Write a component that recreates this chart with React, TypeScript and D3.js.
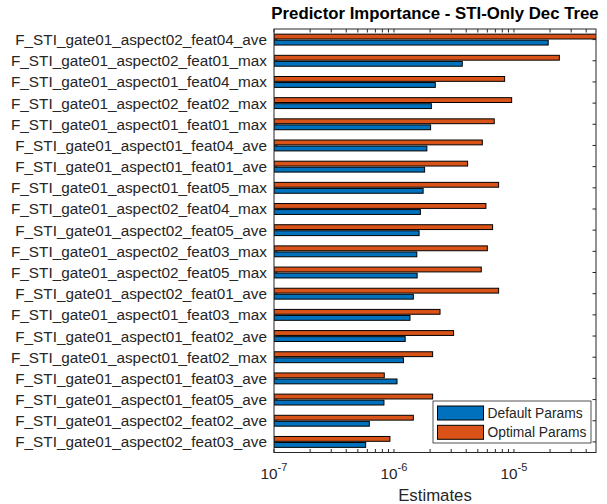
import React, { useRef, useEffect } from 'react';
import * as d3 from 'd3';

// Categories listed top to bottom
const categories = [
  'F_STI_gate01_aspect02_feat04_ave',
  'F_STI_gate01_aspect02_feat01_max',
  'F_STI_gate01_aspect01_feat04_max',
  'F_STI_gate01_aspect02_feat02_max',
  'F_STI_gate01_aspect01_feat01_max',
  'F_STI_gate01_aspect01_feat04_ave',
  'F_STI_gate01_aspect01_feat01_ave',
  'F_STI_gate01_aspect01_feat05_max',
  'F_STI_gate01_aspect02_feat04_max',
  'F_STI_gate01_aspect02_feat05_ave',
  'F_STI_gate01_aspect02_feat03_max',
  'F_STI_gate01_aspect02_feat05_max',
  'F_STI_gate01_aspect02_feat01_ave',
  'F_STI_gate01_aspect01_feat03_max',
  'F_STI_gate01_aspect01_feat02_ave',
  'F_STI_gate01_aspect01_feat02_max',
  'F_STI_gate01_aspect01_feat03_ave',
  'F_STI_gate01_aspect01_feat05_ave',
  'F_STI_gate01_aspect02_feat02_ave',
  'F_STI_gate01_aspect02_feat03_ave',
];

const defaultParams = [
  1.93e-5, 3.71e-6, 2.21e-6, 2.05e-6, 2.02e-6, 1.88e-6, 1.80e-6, 1.75e-6, 1.66e-6, 1.62e-6,
  1.55e-6, 1.56e-6, 1.45e-6, 1.36e-6, 1.24e-6, 1.20e-6, 1.06e-6, 8.25e-7, 6.23e-7, 5.81e-7,
];

const optimalParams = [
  5.5e-5, 2.39e-5, 8.36e-6, 9.57e-6, 6.85e-6, 5.45e-6, 4.11e-6, 7.45e-6, 5.84e-6, 6.64e-6,
  6.0e-6, 5.34e-6, 7.45e-6, 2.42e-6, 3.14e-6, 2.10e-6, 8.30e-7, 2.10e-6, 1.45e-6, 9.25e-7,
];

const seriesNames = ['Default Params', 'Optimal Params'];
const seriesColors = ['#0072BD', '#D95319'];
const xDomain: [number, number] = [1e-7, 4.83e-5];
const xTickExponents = [-7, -6, -5];

const width = 607;
const height = 504;
const axisColor = '#262626';
const font = '"Liberation Sans", Arial, Helvetica, sans-serif';

const App: React.FC = () => {
  const svgRef = useRef<SVGSVGElement>(null);

  useEffect(() => {
    if (!svgRef.current) return;
    d3.select(svgRef.current).selectAll('*').remove();

    const margin = { top: 29, right: 11, bottom: 51.5, left: 274 };
    const innerWidth = width - margin.left - margin.right;
    const innerHeight = height - margin.top - margin.bottom;

    const x = d3.scaleLog().domain(xDomain).range([0, innerWidth]);
    const y = d3.scaleBand().domain(categories).range([0, innerHeight]).padding(0);
    const bw = y.bandwidth();

    // MATLAB-style grouped barh geometry (2 series)
    const groupWidth = 2 / 3.5;
    const barH = (groupWidth / 2) * 0.8 * bw;
    const offsets = [groupWidth / 4, -groupWidth / 4]; // default below, optimal above

    const svg = d3.select(svgRef.current);
    const g = svg.append('g').attr('transform', `translate(${margin.left},${margin.top})`);

    svg.append('defs').append('clipPath').attr('id', 'plot-clip')
      .append('rect').attr('width', innerWidth).attr('height', innerHeight);

    const bars = g.append('g').attr('clip-path', 'url(#plot-clip)');
    [defaultParams, optimalParams].forEach((vals, s) => {
      bars.selectAll(`.bar-${s}`)
        .data(vals)
        .enter().append('rect')
        .attr('class', `bar-${s}`)
        .attr('x', 0)
        .attr('y', (_d, i) => (y(categories[i]) as number) + bw / 2 + offsets[s] * bw - barH / 2)
        .attr('width', d => x(d))
        .attr('height', barH)
        .attr('fill', seriesColors[s])
        .attr('stroke', '#000')
        .attr('stroke-width', 1);
    });

    // box
    g.append('rect')
      .attr('width', innerWidth)
      .attr('height', innerHeight)
      .attr('fill', 'none')
      .attr('stroke', axisColor)
      .attr('stroke-width', 1);

    // x ticks (major + minor), drawn inward on bottom and top
    const tickVals: number[] = [];
    for (let e = -7; e <= -5; e++) {
      for (let k = 1; k <= 9; k++) {
        const v = k * Math.pow(10, e);
        if (v >= xDomain[0] && v <= xDomain[1]) tickVals.push(v);
      }
    }
    const tl = 3.5;
    const xt = g.append('g');
    tickVals.forEach(v => {
      xt.append('line').attr('x1', x(v)).attr('x2', x(v))
        .attr('y1', innerHeight).attr('y2', innerHeight - tl)
        .attr('stroke', axisColor);
      xt.append('line').attr('x1', x(v)).attr('x2', x(v))
        .attr('y1', 0).attr('y2', tl)
        .attr('stroke', axisColor);
    });

    // y ticks on both sides
    categories.forEach(c => {
      const yy = (y(c) as number) + bw / 2;
      g.append('line').attr('x1', 0).attr('x2', tl).attr('y1', yy).attr('y2', yy).attr('stroke', axisColor);
      g.append('line').attr('x1', innerWidth).attr('x2', innerWidth - tl).attr('y1', yy).attr('y2', yy).attr('stroke', axisColor);
    });

    // category labels
    g.selectAll('.cat-label')
      .data(categories)
      .enter().append('text')
      .attr('class', 'cat-label')
      .attr('x', -7)
      .attr('y', d => (y(d) as number) + bw / 2)
      .attr('dy', '0.36em')
      .attr('text-anchor', 'end')
      .style('font-family', font)
      .style('font-size', '15.3px')
      .style('fill', axisColor)
      .text(d => d);

    // x tick labels 10^e
    xTickExponents.forEach(e => {
      const t = g.append('text')
        .attr('x', x(Math.pow(10, e)))
        .attr('y', innerHeight + 26)
        .attr('text-anchor', 'middle')
        .style('font-family', font)
        .style('font-size', '15.3px')
        .style('fill', axisColor);
      t.append('tspan').text('10');
      t.append('tspan').attr('dy', -7.5).style('font-size', '11px').text(`${e}`);
    });

    // x axis title
    g.append('text')
      .attr('x', innerWidth / 2)
      .attr('y', innerHeight + 48)
      .attr('text-anchor', 'middle')
      .style('font-family', font)
      .style('font-size', '16.8px')
      .style('fill', axisColor)
      .text('Estimates');

    // title
    g.append('text')
      .attr('x', innerWidth / 2)
      .attr('y', -10)
      .attr('text-anchor', 'middle')
      .style('font-family', font)
      .style('font-size', '16.8px')
      .style('font-weight', 'bold')
      .style('fill', '#000')
      .text('Predictor Importance - STI-Only Dec Tree');

    // legend
    const lg = svg.append('g').attr('transform', 'translate(433,401)');
    lg.append('rect')
      .attr('width', 158)
      .attr('height', 42)
      .attr('fill', '#fff')
      .attr('stroke', axisColor)
      .attr('stroke-width', 0.8);
    seriesNames.forEach((name, i) => {
      lg.append('rect')
        .attr('x', 4.5)
        .attr('y', 5 + i * 19.3)
        .attr('width', 46)
        .attr('height', 14)
        .attr('fill', seriesColors[i])
        .attr('stroke', '#000')
        .attr('stroke-width', 1);
      lg.append('text')
        .attr('x', 54.5)
        .attr('y', 12 + i * 19.3)
        .attr('dy', '0.36em')
        .style('font-family', font)
        .style('font-size', '13.8px')
        .style('fill', axisColor)
        .text(name);
    });
  }, []);

  return (
    <div style={{ position: 'absolute', left: 0, top: 0, width, height, background: '#fff' }}>
      <svg ref={svgRef} width={width} height={height} viewBox={`0 0 ${width} ${height}`} style={{ display: 'block' }}></svg>
    </div>
  );
};

export default App;
